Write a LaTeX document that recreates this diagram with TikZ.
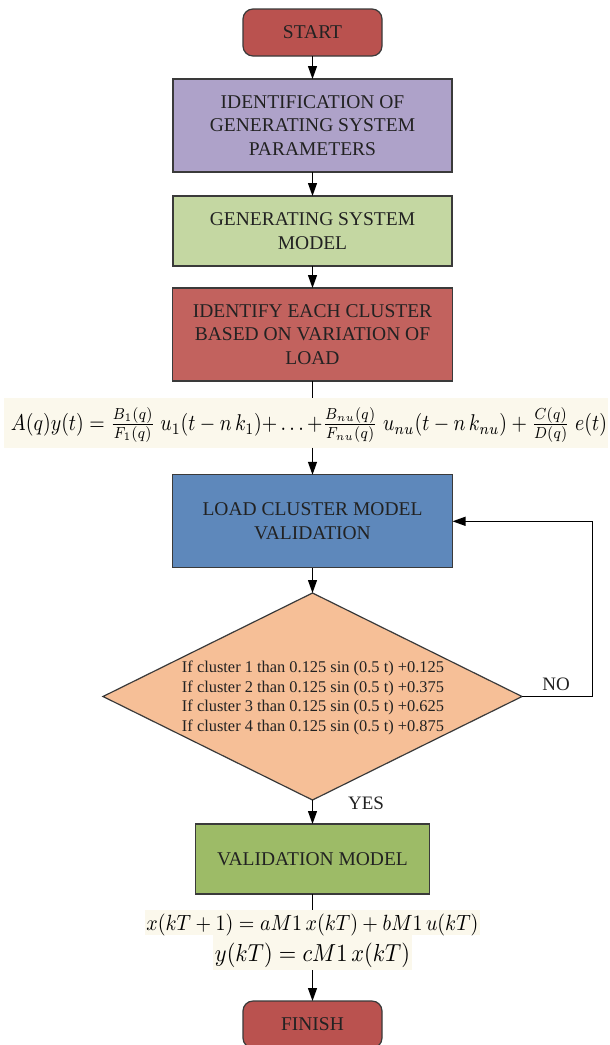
\documentclass[tikz,border=0pt]{standalone}
\usepackage{fontspec}
\setmainfont{Liberation Serif}
\usepackage{amsmath}
\usepackage{graphicx}
\usetikzlibrary{shapes.geometric,arrows.meta}
\definecolor{bordc}{HTML}{3A3A3A}
\definecolor{redc}{HTML}{BA524F}
\definecolor{redbox}{HTML}{C2625E}
\definecolor{purpc}{HTML}{AEA2C9}
\definecolor{lgreen}{HTML}{C4D7A2}
\definecolor{dgreen}{HTML}{9DBB67}
\definecolor{bluec}{HTML}{5E88BB}
\definecolor{orangec}{HTML}{F6BF97}
\definecolor{creamc}{HTML}{FBF8EC}
\definecolor{txtc}{HTML}{222222}
\tikzset{
  boxfont/.style={font=\fontsize{19.5}{23.5}\selectfont, text=txtc},
  procbox/.style={draw=bordc, line width=1.2pt, inner sep=0pt, outer sep=0pt, align=center, boxfont},
  termbox/.style={procbox, fill=redc, rounded corners=10pt, minimum width=139pt, minimum height=47pt},
  band/.style={fill=creamc, draw=none, inner sep=0pt, outer sep=0pt},
  arr/.style={draw=black, line width=1.2pt, -{Triangle[length=13pt,width=9pt]}},
  plain/.style={draw=black, line width=1.2pt},
  lbl/.style={font=\fontsize{19}{22}\selectfont, text=txtc, inner sep=0pt}
}
\begin{document}
\begin{tikzpicture}[x=1pt,y=-1pt]
\useasboundingbox (0,0) rectangle (610,1045);
\clip (0,0) rectangle (610,1045);
\fill[white] (0,0) rectangle (610,1045);

\node[termbox] (start) at (312.5,32.5) {START};
\node[procbox, fill=purpc, minimum width=279pt, minimum height=93pt] (ident) at (312.5,125.5)
  {IDENTIFICATION OF\\GENERATING SYSTEM\\PARAMETERS};
\node[procbox, fill=lgreen, minimum width=279pt, minimum height=70pt] (gsm) at (312.5,231)
  {GENERATING SYSTEM\\MODEL};
\node[procbox, fill=redbox, minimum width=280pt, minimum height=93pt] (clus) at (312.5,334.5)
  {IDENTIFY EACH CLUSTER\\BASED ON VARIATION OF\\LOAD};

\node[band, minimum width=604pt, minimum height=50pt] (eqband) at (306,422.5) {};
\node[inner sep=0pt] (eq) at (309,425) {\scalebox{1}[1.15]{\resizebox{596pt}{!}{$A(q)y(t)=\tfrac{B_1(q)}{F_1(q)}\;u_1(t-n\,k_1){+}\ldots{+}\tfrac{B_{nu}(q)}{F_{nu}(q)}\;u_{nu}(t-n\,k_{nu})+\tfrac{C(q)}{D(q)}\;e(t)$}}};

\node[procbox, fill=bluec, minimum width=280pt, minimum height=93pt] (valid) at (312.5,521.3)
  {LOAD CLUSTER MODEL\\VALIDATION};

\node[diamond, draw=bordc, line width=1.2pt, fill=orangec, inner sep=0pt, outer sep=0pt,
      aspect=2.02, minimum width=419pt, minimum height=207pt] (dia) at (312.5,696.5) {};
\node[align=center, inner sep=0pt, text=txtc, font=\fontsize{16.4}{19.5}\selectfont] (diatext) at (313,698)
  {If cluster 1 than 0.125 sin (0.5 t) +0.125\\
   If cluster 2 than 0.125 sin (0.5 t) +0.375\\
   If cluster 3 than 0.125 sin (0.5 t) +0.625\\
   If cluster 4 than 0.125 sin (0.5 t) +0.875};

\node[lbl] (no) at (556,684) {NO};
\node[lbl] (yes) at (366,803) {YES};

\node[procbox, fill=dgreen, minimum width=234pt, minimum height=70pt] (vmodel) at (312.5,859)
  {VALIDATION MODEL};

\node[band, minimum width=335pt, minimum height=25pt] (eqb1) at (312.5,922.5) {};
\node[band, minimum width=199pt, minimum height=35pt] (eqb2) at (312.5,952.5) {};
\node[inner sep=0pt] (eq1) at (312.5,925) {\scalebox{1}[1.1]{\resizebox{332pt}{!}{$x(kT+1)=aM1\,x(kT)+bM1\,u(kT)$}}};
\node[inner sep=0pt] (eq2) at (312.5,955) {\scalebox{1}[1.1]{\resizebox{195pt}{!}{$y(kT)=cM1\,x(kT)$}}};

\node[termbox, minimum height=47pt] (finish) at (312.5,1024.5) {FINISH};

\coordinate (loop) at (592.7,696.5);

\draw[arr] (start) -- (ident);
\draw[arr] (ident) -- (gsm);
\draw[arr] (gsm) -- (clus);
\draw[plain] (clus.south) -- (clus.south |- eqband.north);
\draw[arr] (clus.south |- eqband.south) -- (valid.north);
\draw[arr] (valid) -- (dia);
\draw[arr] (dia.east) -- (loop) |- (valid.east);
\draw[arr] (dia.south) -- (vmodel.north);
\draw[plain] (vmodel.south) -- (eqb1.north);
\draw[arr] (eqb2.south) -- (finish.north);
\end{tikzpicture}
\end{document}
